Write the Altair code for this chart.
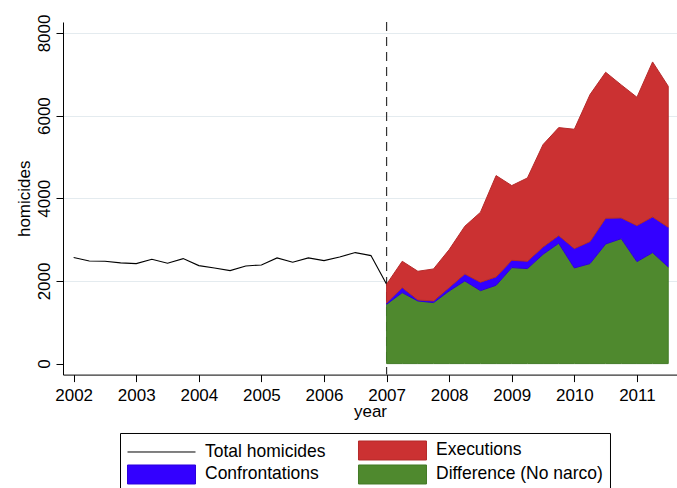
import altair as alt
import pandas as pd

# Quarterly totals before the start of the drug war
quarters_pre = [2002.0, 2002.25, 2002.5, 2002.75, 2003.0, 2003.25, 2003.5, 2003.75,
                2004.0, 2004.25, 2004.5, 2004.75, 2005.0, 2005.25, 2005.5, 2005.75,
                2006.0, 2006.25, 2006.5, 2006.75, 2007.0]
total_homicides = [2565, 2484, 2476, 2436, 2420, 2524, 2428, 2540,
                   2371, 2315, 2250, 2363, 2387, 2557, 2452, 2557,
                   2492, 2581, 2686, 2613, 1920]

# Quarterly breakdown from 2007 on
quarters_post = [2007.0, 2007.25, 2007.5, 2007.75, 2008.0, 2008.25, 2008.5, 2008.75,
                 2009.0, 2009.25, 2009.5, 2009.75, 2010.0, 2010.25, 2010.5, 2010.75,
                 2011.0, 2011.25, 2011.5]
difference = [1436, 1718, 1516, 1476, 1758, 2000, 1766, 1895, 2323, 2299,
              2645, 2911, 2315, 2420, 2895, 3024, 2468, 2686, 2339]
confrontations = [32, 121, 24, 40, 81, 169, 202, 202, 177, 177,
                  178, 186, 467, 532, 621, 500, 871, 863, 960]
executions = [452, 637, 694, 774, 919, 1154, 1693, 2452, 1807, 2016,
              2476, 2613, 2888, 3556, 3533, 3218, 3105, 3750, 3411]

year_ticks = [2002, 2003, 2004, 2005, 2006, 2007, 2008, 2009, 2010, 2011]
value_ticks = [0, 2000, 4000, 6000, 8000]
break_year = [2007]

series_names = ["Total homicides", "Executions", "Confrontations", "Difference (No narco)"]
series_colors = ["#000000", "#cb3132", "#3300ff", "#4f892e"]
outline_colors = ["#000000", "#b52a2a", "#2b00dc", "#427a26"]
# legend keys: a short rule for the line, wide boxes for the areas
KEY_LINE = "M-3.4,0H3.4"
KEY_BOX = "M-3.4,-0.95H3.4V0.95H-3.4Z"
series_keys = [KEY_LINE, KEY_BOX, KEY_BOX, KEY_BOX]

line_df = pd.DataFrame({"year": quarters_pre, "value": total_homicides,
                        "series": "Total homicides"})

area_rows = []
for name, vals, rank in [("Difference (No narco)", difference, 0),
                         ("Confrontations", confrontations, 1),
                         ("Executions", executions, 2)]:
    for q, v in zip(quarters_post, vals):
        area_rows.append({"year": q, "value": v, "series": name, "rank": rank})
area_df = pd.DataFrame(area_rows)

rule_df = pd.DataFrame({"year": break_year})
key_df = pd.DataFrame({"series": series_names})

FONT = "Liberation Sans"

x_scale = alt.Scale(domain=[2001.83, 2011.64], nice=False, zero=False)
y_scale = alt.Scale(domain=[-266, 8265], nice=False, zero=False)

color_scale = alt.Scale(domain=series_names, range=series_colors)
stroke_scale = alt.Scale(domain=series_names, range=outline_colors)
shape_scale = alt.Scale(domain=series_names, range=series_keys)

legend = alt.Legend(
    title=None,
    orient="none",
    legendX=57,
    legendY=411,
    columns=2,
    direction="horizontal",
    strokeColor="#000000",
    padding=7,
    labelFont=FONT,
    labelFontSize=17.5,
    labelColor="#000000",
    labelLimit=400,
    labelOffset=33,
    symbolOffset=24,
    columnPadding=30,
    rowPadding=1,
    symbolSize=400,
    symbolStrokeWidth=1,
    symbolOpacity=1,
)

x_axis = alt.Axis(
    values=year_ticks, format="d", title="year",
    grid=False, domainColor="#000000", tickColor="#000000", tickSize=7,
    labelFont=FONT, labelFontSize=17, labelColor="#000000", labelPadding=6,
    labelFlush=False, labelOverlap=False,
    titleFont=FONT, titleFontSize=17, titleFontWeight="normal",
    titleColor="#000000", titlePadding=0,
)
y_axis = alt.Axis(
    values=value_ticks, format="d", title="homicides",
    grid=True,
    gridColor={"condition": {"test": "datum.value === 0", "value": "#ffffff"},
               "value": "#e4ebef"},
    domainColor="#000000", tickColor="#000000", tickSize=7,
    labelFont=FONT, labelFontSize=17, labelColor="#000000",
    labelAngle=270, labelAlign="center", labelBaseline="alphabetic",
    labelPadding=7, labelFlush=False, labelOverlap=False,
    titleFont=FONT, titleFontSize=17, titleFontWeight="normal",
    titleColor="#000000", titlePadding=2,
)

# invisible points that only carry the legend
keys = alt.Chart(key_df).mark_point(filled=True, opacity=0).encode(
    color=alt.Color("series:N", scale=color_scale, legend=legend),
    stroke=alt.Stroke("series:N", scale=stroke_scale, legend=legend),
    shape=alt.Shape("series:N", scale=shape_scale, legend=legend),
)

rule = alt.Chart(rule_df).mark_rule(
    color="#333333", strokeWidth=1.2, strokeDash=[9, 6]
).encode(x=alt.X("year:Q", scale=x_scale, axis=x_axis))

areas = alt.Chart(area_df).mark_area(strokeWidth=1, interpolate="linear").encode(
    x=alt.X("year:Q", scale=x_scale, axis=x_axis),
    y=alt.Y("value:Q", stack="zero", scale=y_scale, axis=y_axis),
    color=alt.Color("series:N", scale=color_scale, legend=None),
    stroke=alt.Stroke("series:N", scale=stroke_scale, legend=None),
    order=alt.Order("rank:Q"),
)

line = alt.Chart(line_df).mark_line(strokeWidth=1.1, color="#000000").encode(
    x=alt.X("year:Q", scale=x_scale, axis=x_axis),
    y=alt.Y("value:Q", scale=y_scale, axis=y_axis),
)

chart = alt.layer(keys, rule, line, areas).properties(
    width=614,
    height=352.6,
    autosize=alt.AutoSizeParams(type="none"),
    padding={"left": 63, "top": 22, "right": 0, "bottom": 114},
    background="#ffffff",
).configure_view(stroke=None)

chart.save("out.html", embed_options={"renderer": "svg", "actions": False})
